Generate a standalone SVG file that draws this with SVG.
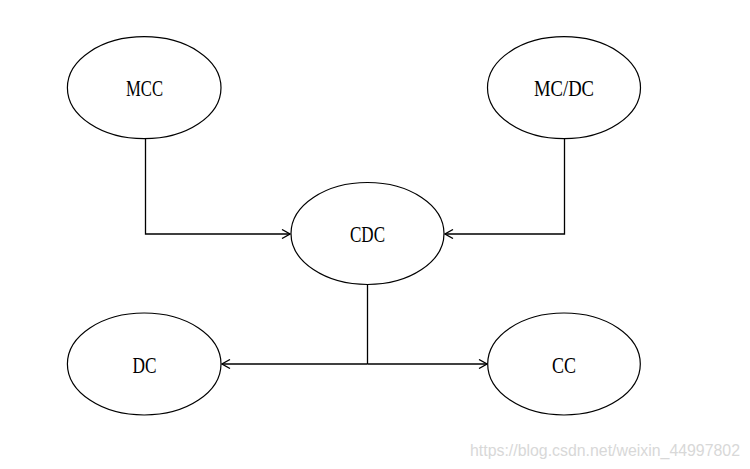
<svg xmlns="http://www.w3.org/2000/svg" width="750" height="469" viewBox="0 0 750 469">
<style>
.n ellipse{fill:#fff;stroke:#000;stroke-width:1.2}
.n text{font-family:"Liberation Serif","DejaVu Serif",serif;font-size:24px;fill:#000;text-anchor:middle}
.c path{fill:none;stroke:#000;stroke-width:1.3}
.wm{font-family:"Liberation Sans",Arial,sans-serif;font-size:16px;fill:#d8d8d8}
</style>
<defs>
<marker id="arr" viewBox="0 0 10 10" refX="9" refY="5" markerWidth="10" markerHeight="10" markerUnits="userSpaceOnUse" orient="auto">
<path d="M1,0.5 L9,5 L1,9.5" fill="none" stroke="#000" stroke-width="1.3"/>
</marker>
</defs>
<rect width="750" height="469" fill="#fff"/>
<g id="connectors" class="c">
<path d="M145.5,139 V234 H290" marker-end="url(#arr)"/>
<path d="M564.5,139 V234 H445" marker-end="url(#arr)"/>
<path d="M367.5,285 V364"/>
<path d="M367.5,364 H222" marker-end="url(#arr)"/>
<path d="M367.5,364 H487" marker-end="url(#arr)"/>
</g>
<g id="node-mcc" class="n">
<ellipse cx="144.2" cy="87.7" rx="76.8" ry="51"/>
<text x="144.5" y="96" textLength="37" lengthAdjust="spacingAndGlyphs">MCC</text>
</g>
<g id="node-mcdc" class="n">
<ellipse cx="564" cy="87.7" rx="76.5" ry="51"/>
<text x="564" y="96" textLength="60" lengthAdjust="spacingAndGlyphs">MC/DC</text>
</g>
<g id="node-cdc" class="n">
<ellipse cx="367.5" cy="233.5" rx="76.5" ry="51"/>
<text x="367.5" y="242" textLength="35" lengthAdjust="spacingAndGlyphs">CDC</text>
</g>
<g id="node-dc" class="n">
<ellipse cx="144.2" cy="364" rx="76.8" ry="51"/>
<text x="144.5" y="372.5" textLength="24" lengthAdjust="spacingAndGlyphs">DC</text>
</g>
<g id="node-cc" class="n">
<ellipse cx="564" cy="364" rx="76.3" ry="51"/>
<text x="564" y="372.5" textLength="24" lengthAdjust="spacingAndGlyphs">CC</text>
</g>
<text class="wm" x="470" y="456" textLength="270" lengthAdjust="spacingAndGlyphs">https://blog.csdn.net/weixin_44997802</text>
</svg>
